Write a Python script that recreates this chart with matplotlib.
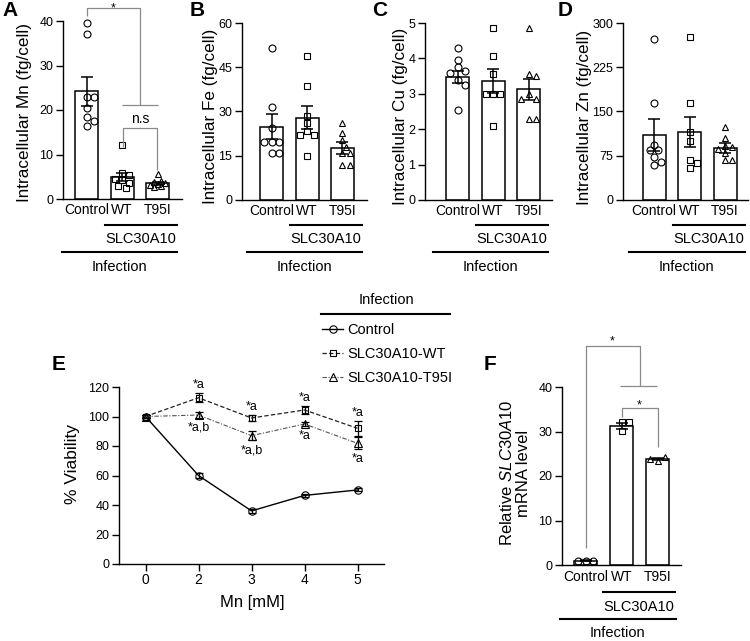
import numpy as np
import matplotlib
matplotlib.use('Agg')
import matplotlib.pyplot as plt
from matplotlib.transforms import Affine2D, blended_transform_factory, ScaledTranslation
from matplotlib.lines import Line2D

plt.rcParams['font.family'] = ['Liberation Sans', 'DejaVu Sans']
plt.rcParams['mathtext.fontset'] = 'custom'
plt.rcParams['mathtext.rm'] = 'Liberation Sans'
plt.rcParams['mathtext.it'] = 'Liberation Sans:italic'
plt.rcParams['mathtext.bf'] = 'Liberation Sans:bold'

# ---------------- data ----------------
groups = ['Control', 'WT', 'T95I']

mn_mean = [24.2, 5.0, 3.5]
mn_sem = [3.3, 0.9, 0.35]
mn_ctrl = [39.5, 37.0, 23.0, 23.0, 20.5, 18.5, 17.5, 16.5]
mn_wt = [12.1, 5.8, 5.5, 4.5, 4.3, 3.6, 2.9, 2.5]
mn_t95 = [5.6, 4.1, 3.8, 3.6, 3.4, 3.2, 3.0, 2.8]

fe_mean = [24.8, 27.9, 17.6]
fe_sem = [4.2, 3.9, 1.9]
fe_ctrl = [51.5, 31.5, 24.5, 19.5, 19.5, 19.5, 16.0, 16.0]
fe_wt = [48.8, 38.6, 28.5, 26.0, 23.5, 22.0, 22.0, 15.0]
fe_t95 = [26.0, 22.8, 20.3, 18.0, 16.0, 16.0, 12.0, 12.0]

cu_mean = [3.48, 3.37, 3.13]
cu_sem = [0.17, 0.34, 0.30]
cu_ctrl = [4.28, 3.95, 3.75, 3.65, 3.6, 3.4, 3.25, 2.55]
cu_wt = [4.87, 4.07, 3.56, 3.0, 3.0, 3.0, 2.1]
cu_t95 = [4.85, 3.55, 3.5, 3.0, 2.85, 2.85, 2.3, 2.3]

zn_mean = [110, 115, 87.6]
zn_sem = [27, 26, 8.5]
zn_ctrl = [273, 164, 94, 84, 84, 73, 64, 60]
zn_wt = [277, 165, 115, 100, 68, 62, 55]
zn_t95 = [124, 105, 92, 90, 87, 80, 68, 68]

mn_conc = ['0', '2', '3', '4', '5']
via_ctrl = [100, 60, 36, 46.5, 50.2]
via_ctrl_err = [1.0, 1.5, 1.5, 1.0, 1.0]
via_wt = [100, 112.7, 99.0, 104.4, 92.0]
via_wt_err = [1.0, 3.0, 2.0, 3.0, 5.0]
via_t95 = [100, 101.0, 87.0, 94.9, 81.8]
via_t95_err = [1.0, 2.0, 3.0, 1.5, 4.0]
wt_sig = ['', '*a', '*a', '*a', '*a']
t95_sig = ['', '*a,b', '*a,b', '*a', '*a']
legend_labels = ['Control', 'SLC30A10-WT', 'SLC30A10-T95I']

mrna_mean = [1.0, 31.3, 23.8]
mrna_sem = [0.05, 0.7, 0.3]
mrna_ctrl = [1.0, 1.0, 1.0]
mrna_wt = [32.2, 32.2, 30.1]
mrna_t95 = [23.3, 24.3, 23.9]

# ---------------- figure ----------------
W, H = 750, 641
fig = plt.figure(figsize=(W / 100, H / 100), dpi=100)
pix = Affine2D().scale(1 / W, -1 / H).translate(0, 1) + fig.transFigure

markers = ['o', 's', '^']
msizes = [5.0, 4.6, 5.0]
GRAY = '#8a8a8a'


def px_axes(l, t, r, b):
    return fig.add_axes([l / W, 1 - b / H, (r - l) / W, (b - t) / H])


def style(ax):
    for s in ['top', 'right']:
        ax.spines[s].set_visible(False)
    for s in ['left', 'bottom']:
        ax.spines[s].set_linewidth(1.0)
    ax.tick_params(axis='y', length=5, width=1.0, labelsize=9, pad=2)
    ax.patch.set_alpha(0)


def swarm(vals, ypx, xpx, d=7.2, maxoff=10.5):
    placed, offs = [], []
    cands = [0.0]
    for k in range(1, 8):
        for sgn in (1, -1):
            c = sgn * k * d * 0.5
            if abs(c) <= maxoff:
                cands.append(c)
    for v in vals:
        y = v * ypx
        best, bestd = 0.0, -1.0
        for x in cands:
            md = min([np.hypot(x - a, y - b) for a, b in placed] + [1e9])
            if md >= 0.95 * d:
                best = x
                break
            if md > bestd:
                best, bestd = x, md
        placed.append((best, y))
        offs.append(best / xpx)
    return offs


def ptext(x, y, s, **kw):
    return fig.text(x / W, 1 - y / H, s, **kw)


def under_labels(ax, ys, slc_span, inf_span):
    tr = blended_transform_factory(ax.transData, pix)
    fig.add_artist(Line2D(slc_span, [ys[0]] * 2, transform=tr, color='black', lw=1.5))
    ax.text(np.mean(slc_span), ys[1], 'SLC30A10', transform=tr, ha='center', va='center',
            fontsize=10.5, clip_on=False)
    fig.add_artist(Line2D(inf_span, [ys[2]] * 2, transform=tr, color='black', lw=1.5))
    ax.text(np.mean(inf_span), ys[3], 'Infection', transform=tr, ha='center', va='center',
            fontsize=10.5, clip_on=False)


def bar_panel(box, c0, means, sems, pts, ymax, ystep, sep=35.5, pad=3.2):
    l, t, r, b = box
    ax = px_axes(l, t, r, b)
    style(ax)
    x0 = -(c0 - l) / sep
    ax.set_xlim(x0, x0 + (r - l) / sep)
    ax.set_ylim(0, ymax)
    ax.set_yticks(np.arange(0, ymax + ystep / 2, ystep))
    x = np.arange(len(groups))
    ax.bar(x, means, width=23 / sep, color='white', edgecolor='black', linewidth=1.1, zorder=1)
    ypx = (b - t) / ymax
    for i, vals in enumerate(pts):
        offs = swarm(vals, ypx, sep)
        ax.plot(x[i] + np.array(offs), vals, ls='none', marker=markers[i], ms=msizes[i],
                mfc='none', mec='black', mew=0.8, zorder=2, clip_on=False)
    ax.errorbar(x, means, yerr=sems, fmt='none', ecolor='black', elinewidth=1.1,
                capsize=4.5, capthick=1.1, zorder=3)
    ax.set_xticks(x, groups)
    ax.tick_params(axis='x', length=0, labelsize=10, pad=pad)
    return ax


def bracket(ax, xs, ys):
    ax.plot(xs, ys, color=GRAY, lw=0.9, clip_on=False, zorder=4, solid_capstyle='butt')


def star(ax, x, yc, s='*', fs=9):
    off = ScaledTranslation(0, -0.58 * fs / 72, fig.dpi_scale_trans)
    ax.text(x, yc, s, transform=ax.transData + off, ha='center', va='baseline',
            fontsize=fs, clip_on=False)


# ---- Panel A ----
axA = bar_panel((63, 21, 182, 199), 86.5, mn_mean, mn_sem, [mn_ctrl, mn_wt, mn_t95], 40, 10)
under_labels(axA, (225, 239, 252, 267), (0.53, 2.55), (-0.7, 2.55))
bracket(axA, [0, 0, 1.5, 1.5], [41.1, 42.9, 42.9, 21.1])
bracket(axA, [1.0, 2.0], [21.1, 21.1])
star(axA, 0.75, 43.8)
bracket(axA, [1.03, 1.03, 1.99, 1.99], [11.7, 16.0, 16.0, 6.5])
axA.text(1.5, 17.0, 'n.s', ha='center', va='baseline', fontsize=10, clip_on=False)
ptext(25, 113, 'Intracellular Mn (fg/cell)', rotation=90, ha='center', va='center', fontsize=12.3)
ptext(10, 11, 'A', fontsize=15, fontweight='bold', ha='center', va='center')

# ---- Panel B ----
axB = bar_panel((242, 23, 367, 200), 271.5, fe_mean, fe_sem, [fe_ctrl, fe_wt, fe_t95], 60, 15)
under_labels(axB, (225, 239, 252, 267), (0.53, 2.55), (-0.7, 2.55))
ptext(211, 116, 'Intracellular Fe (fg/cell)', rotation=90, ha='center', va='center', fontsize=12.3)
ptext(197, 11, 'B', fontsize=15, fontweight='bold', ha='center', va='center')

# ---- Panel C ----
axC = bar_panel((425, 23, 552, 200), 457.5, cu_mean, cu_sem, [cu_ctrl, cu_wt, cu_t95], 5, 1)
under_labels(axC, (225, 239, 252, 267), (0.53, 2.55), (-0.7, 2.55))
ptext(400, 116, 'Intracellular Cu (fg/cell)', rotation=90, ha='center', va='center', fontsize=12.3)
ptext(380, 11, 'C', fontsize=15, fontweight='bold', ha='center', va='center')

# ---- Panel D ----
axD = bar_panel((623, 23, 748, 200), 654, zn_mean, zn_sem, [zn_ctrl, zn_wt, zn_t95], 300, 75)
under_labels(axD, (225, 239, 252, 267), (0.53, 2.55), (-0.7, 2.55))
ptext(585, 117, 'Intracellular Zn (fg/cell)', rotation=90, ha='center', va='center', fontsize=12.3)
ptext(565, 11, 'D', fontsize=15, fontweight='bold', ha='center', va='center')

# ---- Panel E ----
axE = px_axes(119, 387, 384, 564)
style(axE)
xE = np.arange(len(mn_conc))
axE.set_xlim(-0.5, len(mn_conc) - 0.5)
axE.set_ylim(0, 120)
axE.set_yticks(np.arange(0, 121, 20))
axE.set_xticks(xE, mn_conc)
axE.tick_params(axis='x', length=5, width=1.0, labelsize=10, pad=1.5)

series = [
    (via_ctrl, via_ctrl_err, 'o', '-', 'black', 1.0, 5.3),
    (via_wt, via_wt_err, 's', (0, (3.5, 1.8)), '#222222', 0.9, 5.0),
    (via_t95, via_t95_err, '^', (0, (4, 1.5, 1, 1.5)), '#555555', 0.8, 5.3),
]
handles = []
for (vals, errs, mk, ls, col, lw, ms), lab in zip(series, legend_labels):
    axE.errorbar(xE, vals, yerr=errs, fmt='none', ecolor='black', elinewidth=0.9,
                 capsize=3, capthick=0.9, zorder=3)
    h, = axE.plot(xE, vals, ls=ls, color=col, lw=lw, marker=mk, ms=ms, mfc='none',
                  mec='black', mew=0.8, label=lab, zorder=4, clip_on=False)
    handles.append(h)

for i in range(len(xE)):
    if wt_sig[i]:
        axE.annotate(wt_sig[i], (xE[i], via_wt[i] + via_wt_err[i]), xytext=(0, 5.8),
                     textcoords='offset points', ha='center', va='center', fontsize=9)
    if t95_sig[i]:
        axE.annotate(t95_sig[i], (xE[i], via_t95[i] - via_t95_err[i]), xytext=(0, -7.2),
                     textcoords='offset points', ha='center', va='center', fontsize=9)

axE.legend(handles=handles, loc='upper left', bbox_to_anchor=(322 / W, 1 - 323.5 / H),
           bbox_transform=fig.transFigure, frameon=False, fontsize=10.5, borderpad=0,
           borderaxespad=0, handlelength=1.45, handletextpad=0.3, labelspacing=0.67)
ptext(386, 300, 'Infection', ha='center', va='center', fontsize=10.5)
fig.add_artist(Line2D([321, 450], [314, 314], transform=pix, color='black', lw=1.5))
ptext(72, 464, '% Viability', rotation=90, ha='center', va='center', fontsize=12.5)
ptext(252, 602, 'Mn [mM]', ha='center', va='center', fontsize=12)
ptext(59, 365, 'E', fontsize=15, fontweight='bold', ha='center', va='center')

# ---- Panel F ----
axF = bar_panel((562, 387, 681, 565), 585.5, mrna_mean, mrna_sem,
                [mrna_ctrl, mrna_wt, mrna_t95], 40, 10, sep=36, pad=3.9)
under_labels(axF, (592, 607, 619, 633), (0.49, 2.49), (-0.71, 2.51))
bracket(axF, [0, 0, 1.5, 1.5], [3.8, 49.3, 49.3, 40.2])
bracket(axF, [0.96, 1.99], [40.2, 40.2])
star(axF, 0.73, 51.2)
bracket(axF, [1.0, 1.0, 2.0, 2.0], [33.3, 35.3, 35.3, 26.5])
star(axF, 1.49, 36.7)
ptext(515, 473, 'Relative $\\mathit{SLC30A10}$\nmRNA level', rotation=90, ha='center',
      va='center', multialignment='center', fontsize=12, linespacing=1.05)
ptext(490, 365, 'F', fontsize=15, fontweight='bold', ha='center', va='center')

fig.savefig('out.png', dpi=100)
